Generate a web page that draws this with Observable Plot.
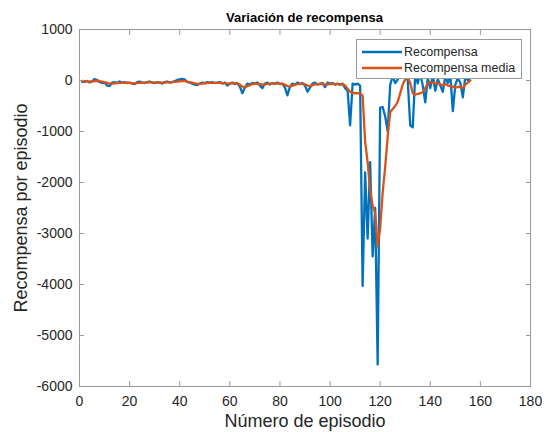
<!DOCTYPE html>
<html><head><meta charset="utf-8">
<script src="https://cdn.jsdelivr.net/npm/d3@7"></script>
<script src="https://cdn.jsdelivr.net/npm/@observablehq/plot@0.6"></script>
<style>
html,body{margin:0;padding:0;background:#fff;}
#wrap{position:relative;width:546px;height:432px;font-family:"Liberation Sans",Arial,sans-serif;}
#title{position:absolute;left:79px;width:451px;top:10px;line-height:16px;text-align:center;font-weight:bold;font-size:13px;color:#000;}
#legend{position:absolute;left:356px;top:39px;width:164px;height:38px;border:1px solid #9a9a9a;background:#fff;font-size:12.5px;color:#262626;}
.row{position:absolute;left:0;height:16px;line-height:16px;}
.row svg{position:absolute;left:4px;top:0;}
.row span{position:absolute;left:47px;top:0;white-space:nowrap;}
g[aria-label="x-axis label"], g[aria-label="y-axis label"]{font-size:18px;}
g[aria-label="x-axis tick label"], g[aria-label="y-axis tick label"]{font-size:14px;}
</style>
</head><body>
<div id="wrap">
<div id="chart"></div>
<div id="title"></div>
<div id="legend"></div>
</div>
<script>
const titleText = "Variación de recompensa";
const xLabel = "Número de episodio";
const yLabel = "Recompensa por episodio";
const seriesNames = ["Recompensa", "Recompensa media"];
const seriesColors = ["#0072BD", "#D95319"];
const xTicks = [0, 20, 40, 60, 80, 100, 120, 140, 160, 180];
const yTicks = [-6000, -5000, -4000, -3000, -2000, -1000, 0, 1000];

const recompensa = [
-20, -30, -10, -40, -20, 30, 10, -30, -50, -40,
-100, -110, -40, -30, -50, -20, -40, -30, -50, -40,
-60, -70, -30, -20, -40, -50, -30, -20, -40, -50,
-30, -40, -60, -30, -20, -40, -30, -10, 10, 20,
30, 20, -30, -40, -60, -80, -90, -60, -40, -50,
-30, -40, -30, -50, -40, -30, -60, -40, -100, -60,
-40, -70, -50, -120, -250, -140, -60, -80, -50, -60,
-40, -100, -150, -60, -40, -80, -50, -60, -40, -70,
-60, -140, -290, -120, -60, -80, -40, -70, -50, -100,
-220, -140, -60, -40, -80, -60, -50, -130, -40, -60,
-50, -80, -60, -80, -60, -150, -200, -880, -60, -80,
-60, -100, -4030, -1800, -3100, -1600, -3450, -2500, -5570, -530,
-520, -700, -1000, -80, 80, -50, 20, 180, 60, 150,
0, -880, -920, 120, -60, 150, -100, -430, 50, -150,
100, -200, 30, -100, -220, 80, -50, 100, -600, -80,
50, -50, -330, 80, 0, 60
];

const recompensaMedia = [
-10, -15, -15, -20, -20, -10, -5, -10, -20, -30,
-45, -60, -60, -55, -50, -45, -45, -40, -40, -45,
-50, -55, -50, -45, -40, -40, -40, -35, -35, -40,
-40, -40, -40, -40, -35, -35, -30, -25, -20, -15,
-10, -10, -20, -30, -40, -55, -65, -65, -60, -55,
-50, -45, -45, -45, -45, -45, -50, -50, -60, -60,
-55, -55, -60, -80, -120, -130, -110, -90, -70, -65,
-60, -70, -80, -75, -65, -60, -60, -60, -55, -60,
-65, -80, -110, -120, -100, -80, -70, -65, -65, -75,
-100, -110, -90, -75, -70, -70, -70, -80, -75, -70,
-70, -70, -70, -75, -70, -100, -160, -220, -240, -250,
-250, -250, -300, -1200, -1600, -2150, -2450, -2600, -3250, -2900,
-2200, -1700, -1100, -620, -560, -500, -420, -250, -80, 20,
60, -50, -250, -280, -260, -250, -230, -150, -60, -30,
-40, -60, -50, -80, -90, -70, -100, -110, -120, -140,
-130, -120, -150, -80, -40, 0
];

const rows = [];
recompensa.forEach((v, i) => rows.push({ep: i + 1, v, s: seriesNames[0]}));
recompensaMedia.forEach((v, i) => rows.push({ep: i + 1, v, s: seriesNames[1]}));

const noLabel = () => "";
const plain = d => String(d);
const chart = Plot.plot({
  width: 546, height: 432,
  marginLeft: 79, marginRight: 16, marginTop: 29, marginBottom: 46,
  style: {fontFamily: "Liberation Sans, Arial, sans-serif", fontSize: "14px", color: "#262626", background: "white", overflow: "visible"},
  x: {domain: [0, 180]},
  y: {domain: [-6000, 1000]},
  color: {domain: seriesNames, range: seriesColors},
  marks: [
    Plot.line(rows, {x: "ep", y: "v", z: "s", stroke: "s", strokeWidth: 2.3, strokeLinejoin: "round"}),
    Plot.frame({stroke: "#9a9a9a"}),
    Plot.axisX({ticks: xTicks, tickSize: -5, tickPadding: 15, stroke: "#9a9a9a", tickFormat: plain, label: xLabel, labelAnchor: "center", labelOffset: 40, labelArrow: "none"}),
    Plot.axisX({anchor: "top", ticks: xTicks, tickSize: -5, stroke: "#9a9a9a", tickFormat: noLabel, label: null}),
    Plot.axisY({ticks: yTicks, tickSize: -5, tickPadding: 12, stroke: "#9a9a9a", tickFormat: plain, label: yLabel, labelAnchor: "center", labelOffset: 65, labelArrow: "none"}),
    Plot.axisY({anchor: "right", ticks: yTicks, tickSize: -5, stroke: "#9a9a9a", tickFormat: noLabel, label: null})
  ]
});
document.getElementById("chart").appendChild(chart);
document.getElementById("title").textContent = titleText;

const leg = document.getElementById("legend");
seriesNames.forEach((name, i) => {
  const r = document.createElement("div");
  r.className = "row";
  r.style.top = (4 + i * 16) + "px";
  r.innerHTML = `<svg width="42" height="16"><line x1="1" y1="8" x2="41" y2="8" stroke="${seriesColors[i]}" stroke-width="2.5"/></svg><span></span>`;
  r.querySelector("span").textContent = name;
  leg.appendChild(r);
});
</script>
</body></html>
